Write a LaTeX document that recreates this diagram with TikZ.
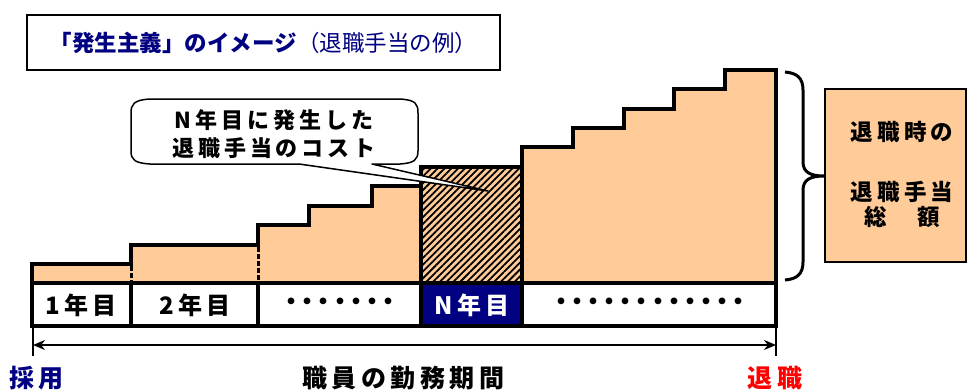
\documentclass[tikz,border=0pt]{standalone}
\usepackage{fontspec}
\newfontfamily\jp{Noto Sans CJK JP}
\newfontfamily\jpsp{Noto Sans CJK JP}[LetterSpace=18]
\newfontfamily\jpdot{Noto Sans CJK JP}[LetterSpace=-33]
\usetikzlibrary{patterns.meta,arrows.meta}
\definecolor{peach}{HTML}{FFCC99}
\definecolor{navy}{HTML}{000080}
\definecolor{redx}{HTML}{FF0000}
\tikzset{
  thick4/.style={line width=4pt},
  lbl/.style={font=\jpsp\bfseries\fontsize{24}{26}\selectfont, inner sep=0pt},
  dots/.style={font=\jpdot\bfseries\fontsize{24}{24}\selectfont, inner sep=0pt},
}
\begin{document}
\begin{tikzpicture}[x=1pt,y=-1pt]
\useasboundingbox (0,0) rectangle (969,389);
% title
\node[draw, line width=2pt, minimum width=473pt, minimum height=55pt, inner sep=0pt] (title) at (263.5,42.5) {};
\node[text=navy, font=\jp\fontsize{22.5}{24}\selectfont, inner sep=0pt] (titletext) at (title.center) {{\bfseries 「発生主義」のイメージ}（退職手当の例）};
% staircase
\fill[peach] (32,283) -- (32,264) -- (131,264) -- (131,245) -- (258,245) -- (258,225) -- (309,225) -- (309,206) -- (372,206) -- (372,186) -- (421,186) -- (421,167) -- (522,167) -- (522,147) -- (573,147) -- (573,128) -- (624,128) -- (624,109) -- (674,109) -- (674,89) -- (725,89) -- (725,70) -- (776,70) -- (776,283) -- cycle;
\draw[thick4, line join=miter] (32,283) -- (32,264) -- (131,264) -- (131,245) -- (258,245) -- (258,225) -- (309,225) -- (309,206) -- (372,206) -- (372,186) -- (421,186);
\draw[thick4, line join=miter] (522,167) -- (522,147) -- (573,147) -- (573,128) -- (624,128) -- (624,109) -- (674,109) -- (674,89) -- (725,89) -- (725,70) -- (776,70) -- (776,283);
\draw[line width=3pt, dash pattern=on 5pt off 2pt] (131,266) -- (131,283);
\draw[line width=3pt, dash pattern=on 5pt off 2pt] (258,247) -- (258,283);
% hatched N-th year
\path[fill=peach] (421,167) rectangle (522,283);
\path[pattern={Lines[angle=45,distance=4.8pt,line width=1.8pt]}, pattern color=black] (421,167) rectangle (522,283);
\draw[thick4] (421,167) rectangle (522,283);
% year row
\fill[navy] (421,283) rectangle (522,326);
\draw[thick4] (32,283) rectangle (776,326);
\draw[thick4] (131,283) -- (131,326) (258,283) -- (258,326) (421,283) -- (421,326) (522,283) -- (522,326);
\node[lbl] (y1) at (81,305) {1年目};
\node[lbl] (y2) at (195,305) {2年目};
\node[dots] (d1) at (340,304) {・・・・・・・};
\node[lbl, text=white] (yn) at (472,305) {N年目};
\node[dots] (d2) at (650,304) {・・・・・・・・・・・・};
% period arrow
\coordinate (pl) at (33,326);
\coordinate (pr) at (776,326);
\coordinate (al) at (33,345);
\coordinate (ar) at (776,345);
\draw[line width=2pt] (pl) -- ++(0,30);
\draw[line width=2pt] (pr) -- ++(0,30);
\draw[line width=2pt, {Stealth[length=12pt,width=10pt]}-{Stealth[length=12pt,width=10pt]}] (al) -- (ar);
\node[lbl, font=\jpsp\bfseries\fontsize{25}{26}\selectfont, text=navy, anchor=west] (start) at (9,378) {採用};
\node[lbl, font=\jpsp\bfseries\fontsize{25}{26}\selectfont] (period) at (403,378) {職員の勤務期間};
\node[lbl, font=\jpsp\bfseries\fontsize{25}{26}\selectfont, text=redx] (end) at (775,378) {退職};
% callout
\coordinate (tip) at (488,191);
\draw[fill=white, line width=1.5pt, line join=round] (150,99) -- (400,99) .. controls (416,100) and (418,104) .. (418,113) -- (418,151) .. controls (418,160) and (414,163) .. (400,164) -- (372,164) -- (tip) -- (299,164) -- (150,164) .. controls (135,163) and (131,160) .. (131,151) -- (131,113) .. controls (131,104) and (134,100) .. (150,99) -- cycle;
\node[lbl, align=center, font=\jpsp\bfseries\fontsize{22}{28}\selectfont] (call) at (274,134) {N年目に発生した\\退職手当のコスト};
% brace
\draw[line width=3pt] (785,72) .. controls (797,73) and (803,78) .. (803,90) -- (803,162) .. controls (803,172) and (810,176) .. (824,176) .. controls (810,176) and (803,180) .. (803,190) -- (803,262) .. controls (803,274) and (797,279) .. (785,280);
% total box
\node[draw, fill=peach, line width=2pt, minimum width=141pt, minimum height=173pt, inner sep=0pt] (total) at (895.5,175.5) {};
\node[lbl, font=\jpsp\bfseries\fontsize{22.5}{26}\selectfont] (t1) at (902,132) {退職時の};
\node[lbl, font=\jpsp\bfseries\fontsize{22.5}{26}\selectfont] (t2) at (902,192) {退職手当};
\node[lbl, font=\jpsp\bfseries\fontsize{22.5}{26}\selectfont] (t3) at (902,217) {総　額};
\end{tikzpicture}
\end{document}
